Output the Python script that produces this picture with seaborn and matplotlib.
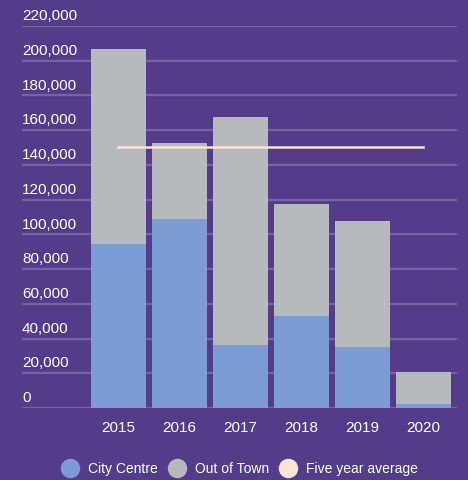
import seaborn as sns
import numpy as np
import pandas as pd
import matplotlib.pyplot as plt
from matplotlib.lines import Line2D
import matplotlib.transforms as mtransforms

years = ["2015", "2016", "2017", "2018", "2019", "2020"]
city_centre = [94500, 108800, 36300, 53000, 35100, 2300]
out_of_town = [112300, 43800, 131300, 64500, 72600, 18400]
five_year_avg = 150300
y_ticks = [0, 20000, 40000, 60000, 80000, 100000, 120000, 140000,
           160000, 180000, 200000, 220000]

BG = "#553C8B"
BLUE = "#7B9DD3"
GREY = "#B7BABC"
AVG = "#FBE3D5"
GRID = "#7663A6"

df = pd.DataFrame({"year": years, "city": city_centre, "out": out_of_town})
df["total"] = df["city"] + df["out"]

plt.rcParams["font.family"] = ["Liberation Sans", "DejaVu Sans"]
fig = plt.figure(figsize=(4.68, 4.80), dpi=100, facecolor=BG)
ax = fig.add_axes([22 / 468, 72 / 480, 435 / 468, 382 / 480])
ax.set_facecolor(BG)

# stacked bars: total in grey, city centre on top of it from zero
sns.barplot(data=df, x="year", y="total", color=GREY, width=0.9,
            saturation=1, ax=ax, zorder=3)
sns.barplot(data=df, x="year", y="city", color=BLUE, width=0.9,
            saturation=1, ax=ax, zorder=4)
sns.lineplot(x=np.arange(len(years)), y=[five_year_avg] * len(years),
             color=AVG, lw=1.8, ax=ax, zorder=5)

ax.set_xlim(-1.58, len(years) - 1 + 0.55)
ax.set_ylim(0, 220000)
ax.set_yticks(y_ticks)
ax.yaxis.grid(True, color=GRID, lw=1.6)
ax.set_axisbelow(True)
ax.tick_params(left=False, bottom=False, labelleft=False,
               labelcolor="white", labelsize=11, pad=6)
ax.set_xticks(range(len(years)))
ax.set_xticklabels(years)
for s in ax.spines.values():
    s.set_visible(False)
ax.set_xlabel("")
ax.set_ylabel("")

# y labels sit left-aligned a little above their gridlines
trans = mtransforms.blended_transform_factory(ax.transAxes, ax.transData)
for v in y_ticks:
    ax.annotate(f"{v:,}", (0, v), xycoords=trans, xytext=(0, 2),
                textcoords="offset points", ha="left", va="bottom",
                color="white", fontsize=11, annotation_clip=False)

handles = [
    Line2D([], [], marker="o", ls="", color=BLUE, markersize=13, label="City Centre"),
    Line2D([], [], marker="o", ls="", color=GREY, markersize=13, label="Out of Town"),
    Line2D([], [], marker="o", ls="", color=AVG, markersize=13, label="Five year average"),
]
fig.legend(handles=handles, loc="center", bbox_to_anchor=(0.512, 11 / 480),
           ncol=3, frameon=False, labelcolor="white", fontsize=10,
           handletextpad=0.65, columnspacing=0.7, handlelength=1.3)

fig.savefig("out.png", dpi=100, facecolor=BG)
